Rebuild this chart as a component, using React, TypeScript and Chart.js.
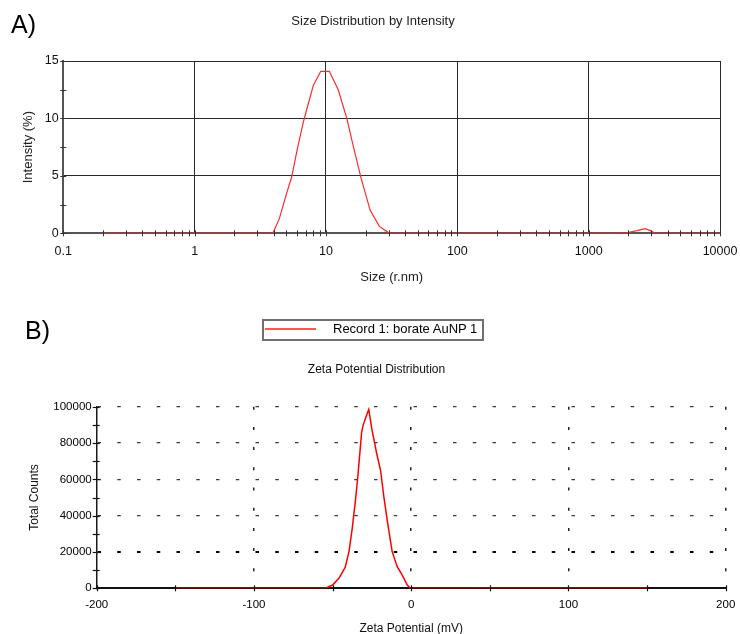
import React, { useEffect, useRef } from 'react';
import { Chart, registerables } from 'chart.js';

Chart.register(...registerables);

const FONT = "'Liberation Sans', Arial, Helvetica, sans-serif";

// ---- A) Size distribution by intensity ----
const sizeNm = [0.2, 3.94, 4.42, 5.02, 5.48, 6.09, 6.73, 7.34, 8.02, 9.12, 10.6, 12.4, 14.4, 16.2, 18.5, 21.7, 25.5, 30.4, 1590, 1955, 2330, 2690, 2940, 3210, 10000];
const intensityPct = [0, 0, 1.3, 3.5, 4.9, 7.5, 9.7, 11.3, 12.9, 14.1, 14.1, 12.5, 10.0, 7.5, 4.8, 2.0, 0.6, 0, 0, 0.05, 0.23, 0.4, 0.23, 0, 0];
const sizeTicks = [0.1, 1, 10, 100, 1000, 10000];
const sizeTickLabels = ['0.1', '1', '10', '100', '1000', '10000'];
const intensityTicks = [0, 5, 10, 15];
const intensityMarks = [0, 2.5, 5, 7.5, 10, 12.5, 15];
const sizeMultipliers = [1, 2, 3, 4, 5, 6, 7, 8, 9];

// ---- B) Zeta potential distribution ----
const zetaMv = [-150, -54.5, -50, -46, -42, -39.5, -37.5, -35.5, -34, -32.7, -31.5, -30.5, -28.5, -27, -25, -22, -19.5, -17.4, -15, -12.1, -8.9, -5.7, -2.5, -0.4, 150];
const totalCounts = [0, 0, 1800, 5500, 11500, 20500, 33000, 48000, 61000, 74000, 86000, 90000, 95000, 98500, 87500, 74500, 65000, 50500, 36000, 20200, 11900, 7300, 1800, 0, 0];
const zetaTicks = [-200, -100, 0, 100, 200];
const zetaMarks = [-200, -150, -100, -50, 0, 50, 100, 150, 200];
const countTicks = [0, 20000, 40000, 60000, 80000, 100000];
const countMarks = [0, 10000, 20000, 30000, 40000, 50000, 60000, 70000, 80000, 90000, 100000];

const sizeMarks: number[] = [];
for (let d = 0; d < sizeTicks.length - 1; d++) {
  for (const m of sizeMultipliers) sizeMarks.push(sizeTicks[d] * m);
}
sizeMarks.push(sizeTicks[sizeTicks.length - 1]);

const tickMarks = {
  id: 'tickMarks',
  afterDraw(chart: any, _args: any, opts: any) {
    const { ctx, chartArea } = chart;
    ctx.save();
    ctx.strokeStyle = opts.color;
    ctx.lineWidth = opts.width;
    for (const spec of opts.marks || []) {
      const scale = chart.scales[spec.axis];
      for (const v of spec.values) {
        const p = Math.round(scale.getPixelForValue(v)) + 0.5;
        ctx.beginPath();
        if (scale.isHorizontal()) {
          const y = chartArea.bottom;
          ctx.moveTo(p, y - spec.inner);
          ctx.lineTo(p, y + spec.outer);
        } else {
          const x = chartArea.left;
          ctx.moveTo(x - spec.outer, p);
          ctx.lineTo(x + spec.inner, p);
        }
        ctx.stroke();
      }
    }
    ctx.restore();
  },
};

export default function App() {
  const refA = useRef<HTMLCanvasElement>(null);
  const refB = useRef<HTMLCanvasElement>(null);

  useEffect(() => {
    const chartA = new Chart(refA.current as HTMLCanvasElement, {
      type: 'line',
      data: {
        datasets: [
          {
            label: 'Size',
            data: sizeNm.map((x, i) => ({ x, y: intensityPct[i] })),
            borderColor: '#ff2b2b',
            borderWidth: 1.2,
            pointRadius: 0,
            tension: 0,
            fill: false,
          },
        ],
      },
      options: {
        responsive: false,
        animation: false,
        events: [],
        layout: { padding: { left: 6, right: 0, top: 0, bottom: 0 } },
        plugins: {
          legend: { display: false },
          tooltip: { enabled: false },
          title: {
            display: true,
            text: 'Size Distribution by Intensity',
            color: '#222',
            font: { family: FONT, size: 13, weight: 'normal' },
            padding: { top: 13.2, bottom: 32.2 },
          },
          tickMarks: {
            color: '#333',
            width: 1,
            marks: [
              { axis: 'x', values: sizeMarks, inner: 3, outer: 3 },
              { axis: 'y', values: intensityMarks, inner: 3, outer: 3 },
            ],
          },
        } as any,
        scales: {
          x: {
            type: 'logarithmic',
            min: 0.1,
            max: 10000,
            afterBuildTicks: (s: any) => {
              s.ticks = sizeTicks.map((v) => ({ value: v }));
            },
            afterFit: (s: any) => {
              s.height = 61.7;
            },
            ticks: {
              autoSkip: false,
              maxRotation: 0,
              padding: 2.6,
              color: '#111',
              font: { family: FONT, size: 12.5 },
              callback: (_v: any, i: number) => sizeTickLabels[i],
            },
            grid: {
              color: (c: any) => (c.index === 0 ? 'transparent' : '#2a2a2a'),
              lineWidth: 1,
              tickLength: 8.6,
              tickColor: 'transparent',
            },
            border: { color: '#555', width: 2 },
            title: {
              display: true,
              text: 'Size (r.nm)',
              color: '#222',
              font: { family: FONT, size: 13 },
              padding: { top: 0, bottom: 9.5 },
            },
          },
          y: {
            min: 0,
            max: 15,
            afterBuildTicks: (s: any) => {
              s.ticks = intensityTicks.map((v) => ({ value: v }));
            },
            afterFit: (s: any) => {
              s.width = 57.3;
            },
            ticks: {
              padding: 1.6,
              color: '#111',
              font: { family: FONT, size: 12.5 },
              callback: (v: any) => String(v),
            },
            grid: {
              color: (c: any) => (c.index === 0 ? 'transparent' : '#2a2a2a'),
              lineWidth: 1,
              tickLength: 3,
              tickColor: 'transparent',
            },
            border: { color: '#555', width: 2 },
            title: {
              display: true,
              text: 'Intensity (%)',
              color: '#222',
              font: { family: FONT, size: 13 },
              padding: { top: 14.5, bottom: 0 },
            },
          },
        },
      } as any,
      plugins: [tickMarks as any],
    });

    const chartB = new Chart(refB.current as HTMLCanvasElement, {
      type: 'line',
      data: {
        datasets: [
          {
            label: 'Record 1: borate AuNP 1',
            data: zetaMv.map((x, i) => ({ x, y: totalCounts[i] })),
            borderColor: '#ff0000',
            borderWidth: 1.5,
            pointRadius: 0,
            tension: 0,
            fill: false,
          },
        ],
      },
      options: {
        responsive: false,
        animation: false,
        events: [],
        layout: { padding: { left: 13, right: 0, top: 0, bottom: 0 } },
        plugins: {
          legend: { display: false },
          tooltip: { enabled: false },
          title: {
            display: true,
            text: 'Zeta Potential Distribution',
            color: '#111',
            font: { family: FONT, size: 12, weight: 'normal' },
            padding: { top: 62.8, bottom: 29.5 },
          },
          tickMarks: {
            color: '#111',
            width: 1.2,
            marks: [
              { axis: 'x', values: zetaMarks, inner: 3, outer: 3 },
              { axis: 'y', values: countMarks, inner: 3, outer: 4 },
            ],
          },
        } as any,
        scales: {
          x: {
            type: 'linear',
            min: -200,
            max: 200,
            afterBuildTicks: (s: any) => {
              s.ticks = zetaTicks.map((v) => ({ value: v }));
            },
            afterFit: (s: any) => {
              s.height = 45.7;
            },
            ticks: {
              autoSkip: false,
              maxRotation: 0,
              padding: 4.7,
              color: '#000',
              font: { family: FONT, size: 11.5 },
              callback: (v: any) => String(v),
            },
            grid: {
              color: (c: any) => (c.index === 0 ? 'transparent' : '#222'),
              lineWidth: 1.5,
              tickLength: 5.1,
              tickColor: 'transparent',
            },
            border: { color: '#111', width: 2, dash: [3, 17.2] },
            title: {
              display: true,
              text: 'Zeta Potential (mV)',
              color: '#111',
              font: { family: FONT, size: 12 },
              padding: { top: 0, bottom: -1.5 },
            },
          },
          y: {
            min: 0,
            max: 100000,
            afterBuildTicks: (s: any) => {
              s.ticks = countTicks.map((v) => ({ value: v }));
            },
            afterFit: (s: any) => {
              s.width = 83.7;
            },
            ticks: {
              padding: 1,
              color: '#000',
              font: { family: FONT, size: 11.5 },
              callback: (v: any) => String(v),
            },
            grid: {
              color: (c: any) => (c.index === 0 ? 'transparent' : c.index === 1 ? '#000' : '#3a3a3a'),
              lineWidth: (c: any) => (c.index === 1 ? 2 : 1.2),
              tickLength: 4,
              tickColor: 'transparent',
            },
            border: { color: '#1a1a1a', width: 1.5, dash: [3.5, 16.25] },
            title: {
              display: true,
              text: 'Total Counts',
              color: '#111',
              font: { family: FONT, size: 12 },
              padding: { top: 14.8, bottom: 0 },
            },
          },
        },
      } as any,
      plugins: [tickMarks as any],
    });

    return () => {
      chartA.destroy();
      chartB.destroy();
    };
  }, []);

  const abs = (s: any) => ({ position: 'absolute' as const, ...s });

  return (
    <div style={abs({ left: 0, top: 0, width: 740, height: 634, background: '#fff', fontFamily: FONT, overflow: 'hidden' })}>
      <canvas ref={refA} width={740} height={295} style={abs({ left: 0, top: 0, width: 740, height: 295 })} />
      <canvas ref={refB} width={740} height={334} style={abs({ left: 0, top: 300, width: 740, height: 334 })} />
      <div style={abs({ left: 11, top: 11.7, fontSize: 25, lineHeight: '25px', color: '#000' })}>A)</div>
      <div style={abs({ left: 25, top: 318.4, fontSize: 25, lineHeight: '25px', color: '#000' })}>B)</div>
      <div style={abs({ left: 262, top: 319, width: 222, height: 22, border: '2px solid #707070', boxSizing: 'border-box' })} />
      <div style={abs({ left: 265, top: 328, width: 51, height: 2, background: '#ff5555' })} />
      <div style={abs({ left: 333, top: 321.7, fontSize: 13, lineHeight: '13px', color: '#000', whiteSpace: 'nowrap' })}>
        Record 1: borate AuNP 1
      </div>
    </div>
  );
}
